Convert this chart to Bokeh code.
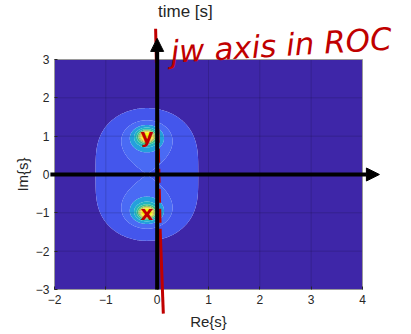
import numpy as np
from bokeh.plotting import figure
from bokeh.models import Arrow, NormalHead, Label, FixedTicker
from bokeh.core.properties import value
from bokeh.embed import file_html
from bokeh.resources import INLINE

# ---- data ----
poles_re = [-0.2, -0.2]
poles_im = [1.0, -1.0]
pole_marks = ["y", "x"]
x_ticks = [-2, -1, 0, 1, 2, 3, 4]
y_ticks = [-3, -2, -1, 0, 1, 2, 3]
levels = [0, 0.5, 1.0, 1.5, 2.0, 2.5, 3.0, 3.5, 4.0, 4.5, 5.0, 7.0]
fills = ["#3E26A8", "#4456EC", "#4A6AF4", "#24A0DC", "#22B5C2", "#3EC08E",
         "#8CC460", "#CFBF3E", "#F8C93A", "#F5E426", "#F9FB0E"]
jw_line_re = [-0.03, 0.06, 0.12]
jw_line_im = [3.8, -1.5, -3.63]

# magnitude field |1/((s-p1)(s-p2))| on the s-plane
xs = np.linspace(x_ticks[0], x_ticks[-1], 361)
ys = np.linspace(y_ticks[0], y_ticks[-1], 361)
X, Y = np.meshgrid(xs, ys)
S = X + 1j * Y
D = np.ones_like(S)
for pr, pi in zip(poles_re, poles_im):
    D = D * (S - (pr + 1j * pi))
Z = np.clip(1.0 / np.abs(D), 0, 6.5)

# canvas covers the whole window; the axes box sits inside it
W, H = 411, 334
px_x, px_y = 51.33, 38.33       # pixels per unit
box_left, box_top = 54, 59       # pixel position of (-2, 3)
x0 = x_ticks[0] - box_left / px_x
x1 = x0 + W / px_x
y1 = y_ticks[-1] + box_top / px_y
y0 = y1 - H / px_y

p = figure(width=W, height=H, x_range=(x0, x1), y_range=(y0, y1),
           output_backend="svg", toolbar_location=None,
           min_border=0)
p.background_fill_color = "white"
p.border_fill_color = "white"
p.outline_line_color = None
p.xgrid.visible = False
p.ygrid.visible = False

p.contour(X, Y, Z, levels, fill_color=fills, line_color=None)

# faint grid lines inside the box
gx = x_ticks[1:-1]
gy = y_ticks[1:-1]
p.segment(x0=gx, y0=[y_ticks[0]] * len(gx), x1=gx, y1=[y_ticks[-1]] * len(gx),
          line_color="black", line_alpha=0.15, line_width=1)
p.segment(x0=[x_ticks[0]] * len(gy), y0=gy, x1=[x_ticks[-1]] * len(gy), y1=gy,
          line_color="black", line_alpha=0.15, line_width=1)
# box outline
p.quad(left=[x_ticks[0]], right=[x_ticks[-1]], bottom=[y_ticks[0]], top=[y_ticks[-1]],
       fill_color=None, line_color="#9A9A9A", line_width=1)

for ax, t, loc, b in ((p.xaxis, x_ticks, y_ticks[0], (x_ticks[0], x_ticks[-1])),
                      (p.yaxis, y_ticks, x_ticks[0], (y_ticks[0], y_ticks[-1]))):
    ax.ticker = FixedTicker(ticks=t)
    ax.fixed_location = loc
    ax.bounds = b
    ax.axis_line_color = None
    ax.major_tick_line_color = "#262626"
    ax.major_tick_in = 3
    ax.major_tick_out = 0
    ax.minor_tick_line_color = None
    ax.major_label_text_font = "Liberation Sans"
    ax.major_label_text_font_size = "12px"
    ax.major_label_text_color = "#262626"
    ax.axis_label_text_font = "Liberation Sans"
    ax.axis_label_text_font_size = "15px"
    ax.axis_label_text_font_style = "normal"
    ax.axis_label_text_color = "#262626"
p.xaxis.axis_label = "Re{s}"
p.yaxis.axis_label = "Im{s}"
p.xaxis.major_label_standoff = 6
p.yaxis.major_label_standoff = 5
p.xaxis.axis_label_standoff = 5
p.yaxis.axis_label_standoff = 2

# hand-drawn axes arrows
p.add_layout(Arrow(x_start=-2.08, y_start=0, x_end=4.33, y_end=0, line_width=4, line_color="black",
                   end=NormalHead(size=13, fill_color="black", line_color="black")))
p.add_layout(Arrow(x_start=0, y_start=y_ticks[0], x_end=0, y_end=3.55, line_width=4, line_color="black",
                   end=NormalHead(size=13, fill_color="black", line_color="black")))

# red handwritten annotation
red = "#C00000"
p.line(x=jw_line_re[:2], y=jw_line_im[:2], line_width=3, line_color=red, line_dash="14 6")
p.line(x=jw_line_re[1:], y=jw_line_im[1:], line_width=3, line_color=red)
p.text(x=poles_re, y=poles_im, text=pole_marks, text_color=red, text_font=value("DejaVu Sans"),
       text_font_size="20px", text_font_style="bold", text_align="center", text_baseline="middle")
p.add_layout(Label(x=0.26, y=3.2, text="jw axis in ROC", text_color=red, text_font="DejaVu Sans",
                   text_font_size="31px", text_font_style="italic", text_baseline="alphabetic",
                   angle=0.06))

p.add_layout(Label(x=0.55, y=4.26, text="time [s]", text_color="#262626", text_font="Liberation Sans",
                   text_font_size="17px", text_align="center", text_baseline="middle"))

open("out.html", "w").write(file_html(p, INLINE))
